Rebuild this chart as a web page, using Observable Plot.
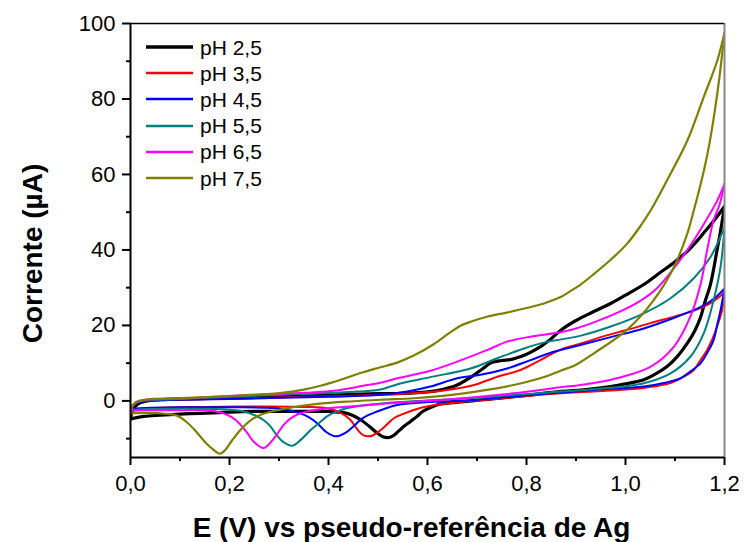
<!DOCTYPE html>
<html><head><meta charset="utf-8">
<script src="https://cdn.jsdelivr.net/npm/d3@7"></script>
<script src="https://cdn.jsdelivr.net/npm/@observablehq/plot@0.6"></script>
<style>
body{margin:0;background:#fff;}
#wrap{position:relative;width:744px;height:542px;font-family:"Liberation Sans",Arial,sans-serif;}
#legend{position:absolute;left:146px;top:34px;}
.row{display:flex;align-items:center;height:26.2px;}
.row svg{width:47px;height:8px;margin-right:7px;}
.row span{font-size:21px;color:#000;line-height:21px;}
</style></head><body><div id="wrap"><div id="chart"></div><div id="legend"></div></div>
<script>
// ---- data (E in V, current in µA), forward and reverse scans ----
const labels = ["pH 2,5","pH 3,5","pH 4,5","pH 5,5","pH 6,5","pH 7,5"];
const colors = ["#000000","#ff0000","#0000ff","#008080","#ff00ff","#808000"];
const widths = [3.2,2,2,2,2,2.2];

const ph25Fwd = [[0,-4.8],[0.004,-2.6],[0.015,-0.8],[0.03,-0.1],[0.06,0.3],[0.12,0.5],[0.2,0.8],[0.3,1.1],[0.4,1.5],[0.5,1.9],[0.55,2.0],[0.6,2.4],[0.63,3.0],[0.66,4.2],[0.69,6.5],[0.71,8.4],[0.73,10.2],[0.75,10.7],[0.77,11.0],[0.79,11.8],[0.81,13.0],[0.83,14.5],[0.85,16.5],[0.87,18.8],[0.90,21.3],[0.93,23.3],[0.97,25.8],[1.0,28.0],[1.04,31.1],[1.07,34.0],[1.10,36.9],[1.13,40.3],[1.16,44.8],[1.18,48.0],[1.2,51.5]];
const ph25Rev = [[1.2,51.5],[1.192,45],[1.185,40],[1.172,31.1],[1.16,26],[1.152,22.3],[1.14,18.6],[1.125,15.3],[1.105,11.8],[1.084,9.1],[1.06,7.1],[1.037,5.6],[1.0,4.5],[0.97,3.8],[0.92,3.0],[0.87,2.5],[0.79,1.3],[0.72,0.4],[0.69,0],[0.65,-0.5],[0.624,-0.9],[0.605,-1.8],[0.59,-2.8],[0.579,-4.1],[0.565,-5.5],[0.552,-6.8],[0.54,-8.2],[0.53,-9.3],[0.522,-9.7],[0.51,-9.5],[0.498,-8.5],[0.483,-6.8],[0.465,-5],[0.448,-3.8],[0.431,-3.1],[0.40,-2.8],[0.35,-2.8],[0.3,-2.8],[0.245,-2.8],[0.18,-3.1],[0.12,-3.4],[0.06,-3.8],[0.027,-4.1],[0.01,-4.5],[0,-4.8]];

const ph35Fwd = [[0,-2.2],[0.004,-1.2],[0.015,-0.3],[0.03,0.1],[0.1,0.4],[0.2,0.6],[0.3,0.9],[0.4,1.2],[0.5,1.6],[0.57,2.0],[0.64,2.9],[0.694,4.2],[0.741,6.4],[0.788,8.2],[0.828,10.8],[0.869,13.6],[0.91,15.2],[0.96,17.3],[1.0,18.7],[1.05,20.6],[1.1,22.4],[1.14,24.0],[1.17,25.8],[1.19,27.6],[1.2,28.9]];
const ph35Rev = [[1.2,28.9],[1.195,24],[1.185,19.7],[1.175,16.2],[1.165,13.5],[1.15,10.5],[1.138,8.2],[1.115,6.2],[1.091,4.7],[1.06,3.9],[1.037,3.4],[0.98,2.8],[0.936,2.5],[0.869,2.0],[0.8,1.3],[0.774,1.0],[0.72,0.3],[0.673,-0.2],[0.606,-1.3],[0.572,-2.4],[0.55,-3.5],[0.532,-4.6],[0.52,-6],[0.505,-7.8],[0.49,-9.1],[0.481,-9.4],[0.47,-9.1],[0.458,-7.5],[0.444,-5],[0.424,-3.1],[0.40,-2.0],[0.35,-1.6],[0.25,-1.5],[0.15,-1.6],[0.06,-1.8],[0.02,-2.0],[0,-2.2]];

const ph45Fwd = [[0,-2.2],[0.004,-1.2],[0.015,-0.4],[0.03,0],[0.1,0.3],[0.2,0.5],[0.3,0.8],[0.4,1.1],[0.505,1.6],[0.559,2.5],[0.606,3.8],[0.66,6.0],[0.707,6.9],[0.761,8.6],[0.808,10.8],[0.855,13.0],[0.909,14.8],[0.97,16.9],[1.037,19.2],[1.104,22.3],[1.152,24.9],[1.18,27.2],[1.2,29.8]];
const ph45Rev = [[1.2,29.8],[1.192,24],[1.185,20],[1.178,16.1],[1.165,12.7],[1.152,10.0],[1.13,7.7],[1.111,6.0],[1.08,4.8],[1.037,3.8],[0.936,2.9],[0.869,2.2],[0.8,1.5],[0.707,0.4],[0.64,-0.1],[0.572,-0.6],[0.539,-1.1],[0.515,-2.0],[0.498,-2.8],[0.48,-3.8],[0.465,-5],[0.45,-6.8],[0.435,-8.4],[0.414,-9.4],[0.395,-8.2],[0.377,-5.9],[0.36,-4.3],[0.343,-3.3],[0.31,-2.2],[0.27,-1.8],[0.2,-1.7],[0.1,-1.7],[0.03,-1.9],[0,-2.2]];

const ph55Fwd = [[0,-2.4],[0.004,-1.3],[0.015,-0.3],[0.03,0.1],[0.1,0.5],[0.242,1.3],[0.377,2.0],[0.478,2.6],[0.505,3.0],[0.545,4.6],[0.606,6.3],[0.687,8.6],[0.741,11.3],[0.795,13.9],[0.842,15.7],[0.87,16.3],[0.91,17.3],[0.97,19.7],[1.037,23.2],[1.091,27.2],[1.138,32.5],[1.172,38.2],[1.2,46]];
const ph55Rev = [[1.2,46],[1.192,35.5],[1.178,26.7],[1.158,17.9],[1.131,11.7],[1.091,7.3],[1.037,4.7],[0.936,3.1],[0.869,2.5],[0.78,1.6],[0.7,0.8],[0.6,0.1],[0.512,-0.6],[0.475,-1.1],[0.438,-1.9],[0.415,-2.9],[0.397,-4.1],[0.38,-6],[0.364,-7.7],[0.345,-10.2],[0.327,-11.9],[0.31,-11],[0.295,-9],[0.283,-6.8],[0.27,-5.2],[0.256,-4.1],[0.229,-2.8],[0.182,-2.2],[0.1,-2.1],[0.03,-2.2],[0,-2.4]];

const ph65Fwd = [[0,-2.6],[0.004,-1.2],[0.015,-0.2],[0.03,0.3],[0.1,0.6],[0.242,1.6],[0.31,1.9],[0.411,2.7],[0.478,4.2],[0.505,4.8],[0.539,6.0],[0.606,8.0],[0.66,10.4],[0.721,13.5],[0.761,15.7],[0.808,17.0],[0.855,17.9],[0.9,19.2],[0.94,21],[0.994,24.0],[1.03,26.5],[1.061,29.5],[1.094,34.5],[1.125,40],[1.152,45.5],[1.185,53],[1.2,57.5]];
const ph65Rev = [[1.2,57.5],[1.19,52],[1.178,47.9],[1.165,40],[1.152,31.1],[1.131,22.3],[1.098,14.4],[1.051,9.1],[0.97,5.6],[0.909,4.2],[0.869,3.6],[0.774,2.0],[0.64,0.4],[0.505,-0.8],[0.444,-1.5],[0.38,-2.3],[0.343,-3.3],[0.325,-4.5],[0.31,-6.3],[0.29,-9.9],[0.269,-12.5],[0.249,-10.8],[0.236,-8.5],[0.22,-6],[0.202,-4.1],[0.168,-2.6],[0.1,-2.5],[0.03,-2.5],[0,-2.6]];

const ph75Fwd = [[0,-3.3],[0.004,-1.5],[0.01,-0.4],[0.02,0.1],[0.04,0.5],[0.114,0.8],[0.208,1.3],[0.249,1.6],[0.31,2.2],[0.35,3.0],[0.384,4.0],[0.41,5.0],[0.438,6.2],[0.47,7.6],[0.505,8.9],[0.54,10.2],[0.572,12.0],[0.61,14.8],[0.64,17.6],[0.665,19.8],[0.69,21.1],[0.72,22.3],[0.76,23.4],[0.80,24.6],[0.83,25.6],[0.855,26.8],[0.87,27.6],[0.89,29.2],[0.91,30.9],[0.936,33.6],[0.97,37.4],[1.003,41.6],[1.03,46.3],[1.051,50.5],[1.091,60.2],[1.125,69.0],[1.158,80.5],[1.185,90],[1.2,97.5]];
const ph75Rev = [[1.2,97.5],[1.19,86],[1.18,76.5],[1.17,68.5],[1.16,62],[1.15,56.5],[1.138,50.5],[1.125,44.4],[1.098,35.5],[1.057,26.7],[1.003,18.8],[0.936,12.6],[0.9,9.6],[0.869,8.0],[0.842,6.6],[0.8,5.0],[0.774,4.2],[0.72,2.9],[0.673,2.0],[0.62,1.2],[0.572,0.7],[0.505,0.3],[0.45,-0.1],[0.377,-0.8],[0.317,-1.9],[0.285,-2.8],[0.263,-3.7],[0.24,-5.4],[0.222,-7.7],[0.205,-10.5],[0.19,-13.2],[0.18,-14],[0.168,-13.0],[0.15,-10.8],[0.135,-8.5],[0.115,-5.8],[0.094,-3.9],[0.07,-3.4],[0.03,-3.2],[0,-3.3]];

const xMajor = [0,0.2,0.4,0.6,0.8,1.0,1.2];
const xMinor = [0.1,0.3,0.5,0.7,0.9,1.1];
const yMajor = [0,20,40,60,80,100];
const yMinor = [-10,10,30,50,70,90];
const xTitle = "E (V) vs pseudo-referência de Ag";
const yTitle = "Corrente (µA)";

// ---- build table ----
const scans = [[ph25Fwd,ph25Rev],[ph35Fwd,ph35Rev],[ph45Fwd,ph45Rev],[ph55Fwd,ph55Rev],[ph65Fwd,ph65Rev],[ph75Fwd,ph75Rev]];
const rows = [];
scans.forEach(([f,r],i)=>{
  f.forEach(([x,y])=>rows.push({series:labels[i],key:labels[i]+"f",x,y}));
  r.forEach(([x,y])=>rows.push({series:labels[i],key:labels[i]+"r",x,y}));
});

const fmtX = d => d3.format(".1f")(d).replace(".",",");
const lineMarks = labels.map((lab,i)=>Plot.line(rows.filter(d=>d.series===lab),{x:"x",y:"y",z:"key",stroke:colors[i],strokeWidth:widths[i],curve:"catmull-rom",clip:true}));

const chart = Plot.plot({
  width:744,height:542,
  marginLeft:130,marginRight:20,marginTop:23,marginBottom:85,
  style:{fontFamily:"'Liberation Sans',Arial,sans-serif",fontSize:"22px",color:"#000",background:"#fff"},
  x:{domain:[0,1.2],label:null},
  y:{domain:[-15,100],label:null},
  marks:[
    ...lineMarks,
    Plot.ruleX([1.2],{stroke:"#888",strokeWidth:2}),
    Plot.ruleY([100],{stroke:"#000",strokeWidth:1.5}),
    Plot.ruleX([0],{stroke:"#000",strokeWidth:2}),
    Plot.ruleY([-15],{stroke:"#000",strokeWidth:2}),
    Plot.axisX(xMajor,{tickSize:8,tickPadding:10,tickFormat:fmtX,fontSize:22,strokeWidth:2,label:null}),
    Plot.axisX(xMinor,{tickSize:4,tickFormat:()=>"",strokeWidth:2,label:null}),
    Plot.axisY(yMajor,{tickSize:8,tickPadding:7,tickFormat:d=>String(d),fontSize:22,strokeWidth:2,label:null}),
    Plot.axisY(yMinor,{tickSize:4,tickFormat:()=>"",strokeWidth:2,label:null}),
    Plot.text([xTitle],{frameAnchor:"bottom",textAnchor:"middle",lineAnchor:"middle",dx:-16,dy:71,fontSize:28,fontWeight:"bold",fill:"#000"}),
    Plot.text([yTitle],{frameAnchor:"left",textAnchor:"middle",lineAnchor:"middle",rotate:-90,dx:-97,dy:13,fontSize:28,fontWeight:"bold",fill:"#000"})
  ]
});
document.getElementById("chart").appendChild(chart);

// ---- legend ----
const leg = document.getElementById("legend");
labels.forEach((lab,i)=>{
  const row = document.createElement("div"); row.className="row";
  row.innerHTML = `<svg viewBox="0 0 47 8"><line x1="0" x2="47" y1="4" y2="4" stroke="${colors[i]}" stroke-width="${i===0?3.5:2.5}"/></svg><span>${lab}</span>`;
  leg.appendChild(row);
});
</script></body></html>
